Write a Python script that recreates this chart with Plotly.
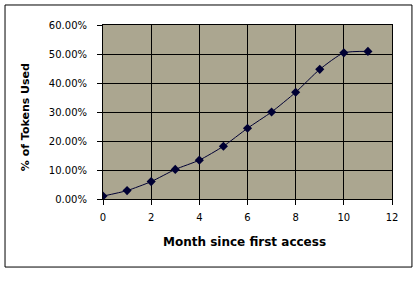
import plotly.graph_objects as go

months = [0, 1, 2, 3, 4, 5, 6, 7, 8, 9, 10, 11]
pct_used = [0.010, 0.029, 0.060, 0.102, 0.134, 0.182, 0.244, 0.300, 0.368, 0.447, 0.504, 0.509]
y_ticks = [0.0, 0.1, 0.2, 0.3, 0.4, 0.5, 0.6]
x_ticks = [0, 2, 4, 6, 8, 10, 12]

FONT = "DejaVu Sans, Verdana, sans-serif"

fig = go.Figure()
fig.add_trace(go.Scatter(
    x=months, y=pct_used, mode="lines+markers",
    line=dict(color="#000033", width=1, shape="spline", smoothing=0.6),
    marker=dict(symbol="diamond", size=7, color="#000033"),
    showlegend=False,
))

axis_common = dict(
    showgrid=True, gridcolor="black", gridwidth=1,
    showline=True, linecolor="black", linewidth=1, mirror=True,
    ticks="outside", ticklen=5, tickcolor="black", tickwidth=1,
    zeroline=False, tickfont=dict(family=FONT, size=10, color="black"),
)

fig.update_xaxes(range=[0, 12], tickvals=x_ticks, ticklabelstandoff=4, **axis_common)
fig.update_yaxes(range=[0, 0.6], tickvals=y_ticks, tickformat=".2%", ticklabelstandoff=8, **axis_common)

fig.add_annotation(text="<b>Month since first access</b>", xref="paper", yref="paper",
                   x=0.49, y=-0.247, showarrow=False, xanchor="center", yanchor="middle",
                   font=dict(family=FONT, size=12, color="black"))
fig.add_annotation(text="<b>% of Tokens Used</b>", xref="paper", yref="paper",
                   x=-0.27, y=0.47, showarrow=False, xanchor="center", yanchor="middle",
                   textangle=-90, font=dict(family=FONT, size=11, color="black"))

fig.add_shape(type="rect", xref="paper", yref="paper",
              x0=-0.339, x1=1.069, y0=-0.391, y1=1.115,
              line=dict(color="black", width=1), fillcolor="rgba(0,0,0,0)", layer="below")

fig.update_layout(
    width=416, height=286,
    margin=dict(l=103, r=24, t=25, b=87),
    paper_bgcolor="white", plot_bgcolor="#ABA690",
    font=dict(family=FONT, color="black"),
)

fig.write_html("out.html")
